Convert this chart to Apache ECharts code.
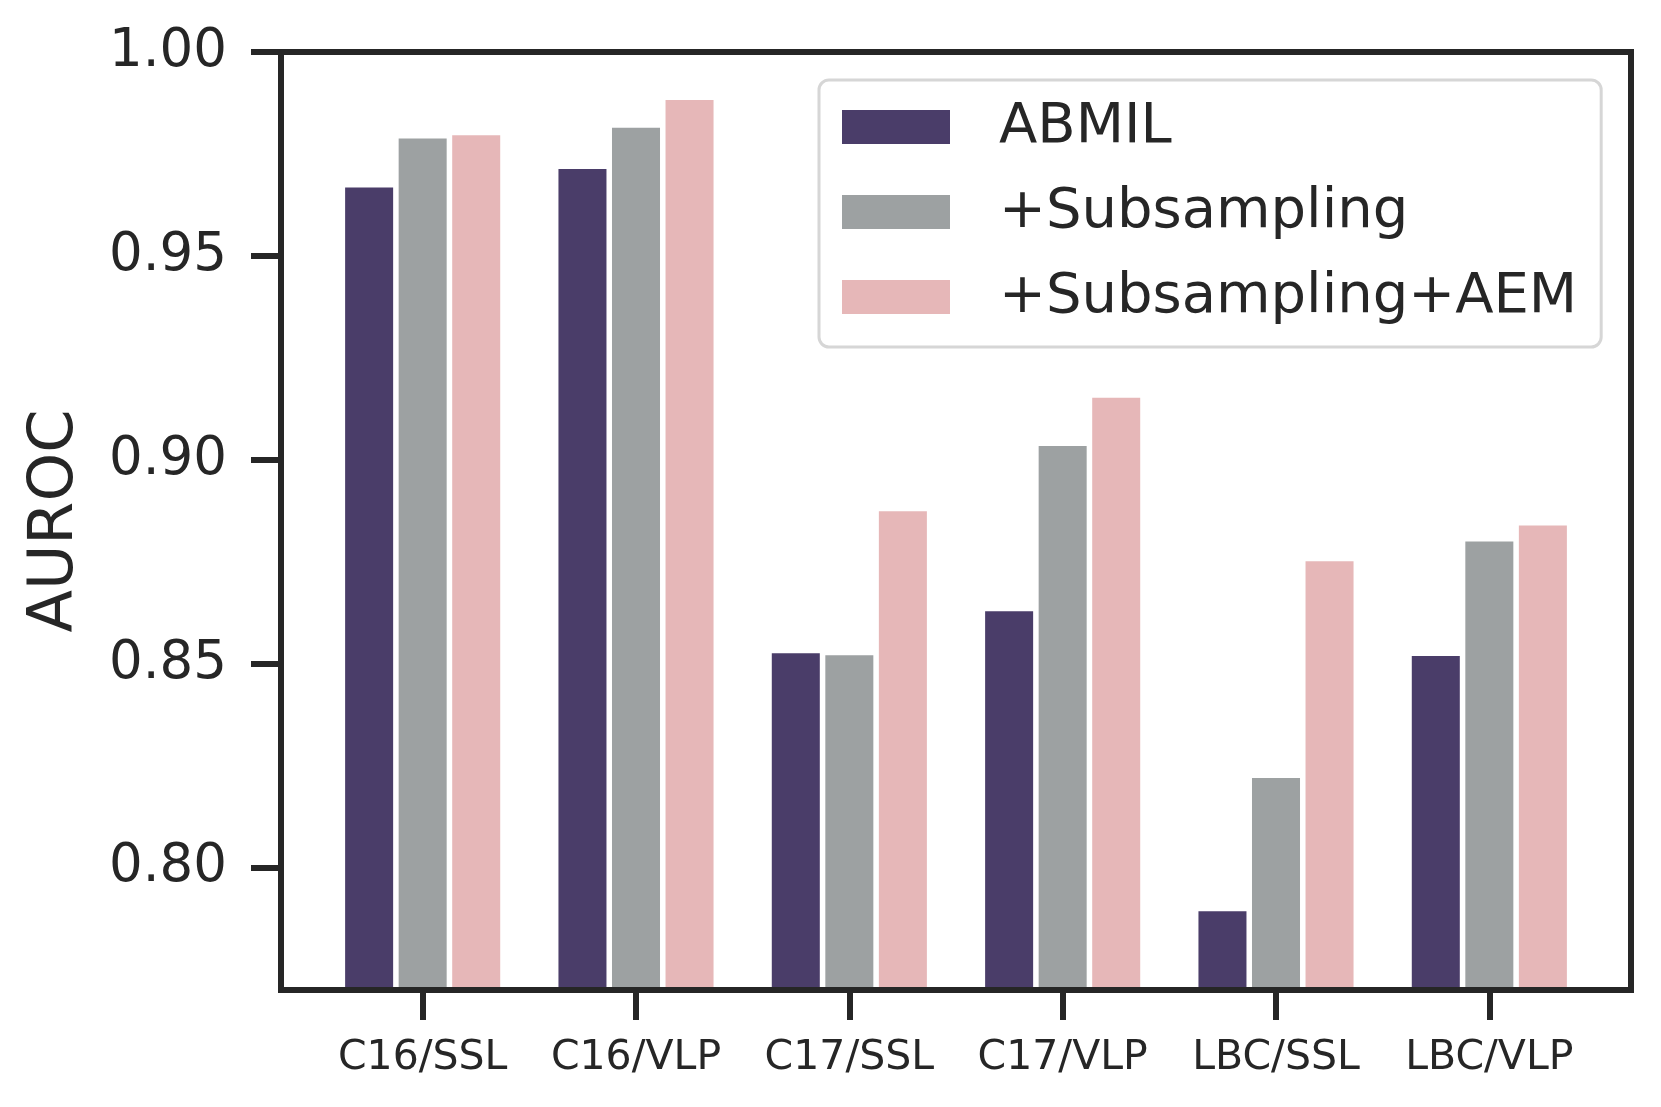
<!DOCTYPE html>
<html>
<head>
<meta charset="utf-8">
<script src="https://cdn.jsdelivr.net/npm/echarts@6/dist/echarts.min.js"></script>
<style>
html,body{margin:0;padding:0;background:#fff;}
#chart{width:1661px;height:1107px;}
</style>
</head>
<body>
<div id="chart"></div>
<script>
const categories = ['C16/SSL', 'C16/VLP', 'C17/SSL', 'C17/VLP', 'LBC/SSL', 'LBC/VLP'];
const seriesNames = ['ABMIL', '+Subsampling', '+Subsampling+AEM'];
const abmil = [0.9668, 0.9713, 0.8526, 0.8629, 0.7893, 0.8519];
const subsampling = [0.9788, 0.9814, 0.8521, 0.9034, 0.8220, 0.8800];
const subsamplingAEM = [0.9796, 0.9882, 0.8874, 0.9152, 0.8751, 0.8839];
const yTicks = [0.80, 0.85, 0.90, 0.95, 1.00];
const yMin = 0.77, yMax = 1.00;

const colors = ['#4a3d69', '#9da1a2', '#e6b7b8'];
const ink = '#262626';
const font = 'DejaVu Sans';

const chart = echarts.init(document.getElementById('chart'), null, {renderer: 'canvas'});
const frameLine = {show: true, onZero: false, lineStyle: {color: ink, width: 6, cap: 'square'}};

const option = {
  backgroundColor: '#ffffff',
  animation: false,
  textStyle: {fontFamily: font, color: ink},
  grid: [
    {left: 281, right: 30, top: 52, bottom: 117, containLabel: false},
    {left: 316, right: 65, top: 52, bottom: 117, containLabel: false}
  ],
  legend: {
    data: seriesNames,
    orient: 'vertical',
    left: 819,
    top: 80,
    icon: 'rect',
    itemWidth: 108,
    itemHeight: 34,
    itemGap: 29,
    padding: [19, 24, 22, 23],
    backgroundColor: '#ffffff',
    borderColor: '#d6d6d6',
    borderWidth: 3,
    borderRadius: 10,
    textStyle: {fontFamily: font, fontSize: 56, color: ink, padding: [0, 0, 0, 44]}
  },
  xAxis: [
    {gridIndex: 0, type: 'value', min: 0, max: 1, position: 'bottom', z: 5,
      axisLine: frameLine, axisTick: {show: false}, axisLabel: {show: false}, splitLine: {show: false}},
    {gridIndex: 0, type: 'value', min: 0, max: 1, position: 'top', z: 5,
      axisLine: frameLine, axisTick: {show: false}, axisLabel: {show: false}, splitLine: {show: false}},
    {gridIndex: 1, type: 'category', data: categories, position: 'bottom',
      axisLine: {show: false},
      axisTick: {show: true, alignWithLabel: true, interval: 0, length: 30, lineStyle: {color: ink, width: 6}},
      axisLabel: {interval: 0, fontFamily: font, fontSize: 41, color: ink, margin: 48},
      splitLine: {show: false}}
  ],
  yAxis: [
    {gridIndex: 0, type: 'value', min: yMin, max: yMax, position: 'left', z: 5,
      name: 'AUROC', nameLocation: 'middle', nameGap: 194,
      nameTextStyle: {fontFamily: font, fontSize: 62, color: ink},
      axisLine: frameLine,
      axisTick: {show: true, customValues: yTicks, length: 30, lineStyle: {color: ink, width: 6}},
      axisLabel: {customValues: yTicks, fontFamily: font, fontSize: 53, color: ink, margin: 54,
        formatter: v => v.toFixed(2)},
      splitLine: {show: false}},
    {gridIndex: 0, type: 'value', min: yMin, max: yMax, position: 'right', z: 5,
      axisLine: frameLine, axisTick: {show: false}, axisLabel: {show: false}, splitLine: {show: false}},
    {gridIndex: 1, type: 'value', min: yMin, max: yMax, show: false, splitLine: {show: false}}
  ],
  series: [abmil, subsampling, subsamplingAEM].map((data, i) => ({
    name: seriesNames[i],
    type: 'bar',
    xAxisIndex: 2,
    yAxisIndex: 2,
    data: data,
    barCategoryGap: '27.3%',
    barGap: '11.5%',
    itemStyle: {color: colors[i]}
  }))
};
chart.setOption(option);
</script>
</body>
</html>
